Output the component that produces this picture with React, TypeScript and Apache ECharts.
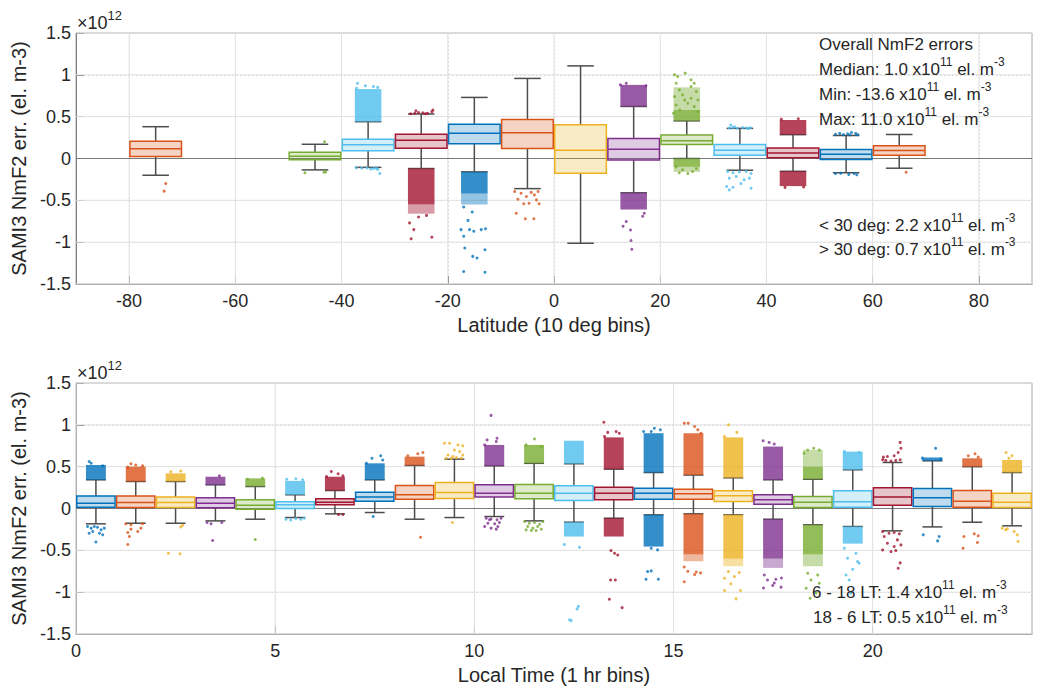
import React, { useEffect, useRef } from 'react';
import * as echarts from 'echarts';

const FONT = '"Liberation Sans", Arial, Helvetica, sans-serif';
const TXT = '#262626';
const COLORS = ['#0072BD', '#D95319', '#EDB120', '#7E2F8E', '#77AC30', '#4DBEEE', '#A2142F'];

// ---------- Top panel: latitude bins (values in 1e12 el. m-3) ----------
const latCenters = [-75, -45, -35, -25, -15, -5, 5, 15, 25, 35, 45, 55, 65];
const latColorIdx = [1, 4, 5, 6, 0, 1, 2, 3, 4, 5, 6, 0, 1];
const latWhiskerLo = [-0.2, -0.136, -0.106, -0.12, -0.16, -0.36, -1.013, -0.41, 0.0, -0.14, -0.153, -0.17, -0.116];
const latQ1 = [0.024, -0.014, 0.094, 0.122, 0.175, 0.12, -0.176, -0.018, 0.168, 0.038, 0.01, -0.012, 0.04];
const latMedian = [0.116, 0.026, 0.164, 0.218, 0.303, 0.307, 0.1, 0.112, 0.211, 0.1, 0.066, 0.052, 0.096];
const latQ3 = [0.207, 0.076, 0.231, 0.29, 0.41, 0.467, 0.403, 0.239, 0.28, 0.167, 0.126, 0.108, 0.152];
const latWhiskerHi = [0.38, 0.17, 0.44, 0.532, 0.73, 0.957, 1.107, 0.622, 0.45, 0.36, 0.285, 0.275, 0.287];
// dense outlier clouds: [bin center, low, high]
const latDenseClouds = [
  [-35, 0.44, 0.83], [-25, -0.55, -0.12], [-15, -0.42, -0.16], [15, 0.622, 0.88], [15, -0.61, -0.41],
  [25, 0.45, 0.58], [25, -0.1, 0.0], [45, 0.285, 0.46], [45, -0.33, -0.153],
];
const latLightClouds = [[25, 0.58, 0.85], [-15, -0.55, -0.42], [-25, -0.66, -0.55], [25, -0.16, -0.1]];
// individual outliers: [bin center, jitter (fraction of bin), value]
const latOutliers = [
  [-75, 0.19, -0.3], [-75, 0.16, -0.39],
  [-45, 0.18, 0.2], [-45, -0.19, -0.17], [-45, 0.2, -0.16], [-45, 0.17, -0.165],
  [-35, -0.2, 0.9], [-35, 0.1, 0.86], [-35, -0.05, 0.87], [-35, 0.18, 0.85], [-35, -0.22, 0.84],
  [-35, -0.22, -0.11], [-35, -0.12, -0.115], [-35, -0.02, -0.11], [-35, 0.1, -0.12], [-35, 0.18, -0.13],
  [-35, 0.22, -0.18], [-35, 0.05, -0.125], [-35, 0.15, -0.115],
  [-25, -0.2, 0.535], [-25, -0.12, 0.54], [-25, -0.05, 0.55], [-25, 0.03, 0.545], [-25, 0.12, 0.54],
  [-25, 0.2, 0.56], [-25, 0.22, 0.58], [-25, -0.1, 0.57], [-25, 0.08, 0.535],
  [-25, -0.22, -0.77], [-25, -0.14, -0.85], [-25, -0.19, -0.96], [-25, 0.2, -0.94], [-25, 0.1, -0.68], [-25, -0.05, -0.7],
  [-15, -0.2, -0.58], [-15, -0.04, -0.64], [-15, -0.12, -0.74], [-15, -0.09, -0.85], [-15, -0.25, -0.85],
  [-15, -0.2, -0.93], [-15, -0.01, -0.87], [-15, 0.13, -0.85], [-15, 0.21, -0.84], [-15, -0.18, -1.07],
  [-15, 0.2, -1.09], [-15, -0.03, -1.17], [-15, 0.05, -1.19], [-15, -0.2, -1.35], [-15, 0.2, -1.36],
  [-5, -0.24, -0.395], [-5, -0.12, -0.415], [-5, -0.02, -0.455], [-5, 0.07, -0.405], [-5, 0.17, -0.495],
  [-5, 0.22, -0.54], [-5, 0.03, -0.535], [-5, -0.18, -0.487], [-5, -0.07, -0.54], [-5, 0.13, -0.435],
  [-5, 0.2, -0.395], [-5, -0.21, -0.654], [-5, -0.04, -0.72], [-5, 0.12, -0.72],
  [15, -0.25, 0.88], [15, 0.23, 0.87], [15, -0.14, 0.9], [15, -0.14, -0.754], [15, -0.2, -0.81],
  [15, -0.06, -0.854], [15, -0.05, -0.98], [15, -0.035, -1.085], [15, 0.2, -0.654], [15, 0.17, -0.69],
  [25, -0.23, 1.0], [25, -0.03, 1.02], [25, 0.08, 0.94], [25, 0.14, 0.9], [25, -0.2, 0.9], [25, -0.14, 0.82],
  [25, 0.18, 0.8], [25, -0.23, 0.74], [25, -0.08, 0.76], [25, 0.08, 0.72], [25, 0.21, 0.7], [25, -0.2, 0.64],
  [25, 0.02, 0.66], [25, 0.14, 0.62], [25, -0.13, 0.58], [25, -0.25, 0.54], [25, 0.21, 0.56], [25, 0.08, 0.86],
  [25, -0.04, 0.7], [25, -0.17, 0.98],
  [25, -0.2, -0.1], [25, -0.08, -0.136], [25, 0.02, -0.18], [25, 0.18, -0.12], [25, 0.11, -0.155], [25, -0.14, -0.17],
  [35, -0.2, 0.365], [35, -0.13, 0.37], [35, -0.05, 0.362], [35, 0.05, 0.37], [35, 0.12, 0.365], [35, 0.2, 0.368],
  [35, -0.1, 0.38], [35, 0.16, 0.36], [35, -0.17, 0.4],
  [35, -0.23, -0.156], [35, -0.13, -0.17], [35, -0.01, -0.16], [35, 0.12, -0.156], [35, 0.21, -0.18],
  [35, -0.2, -0.235], [35, -0.07, -0.215], [35, 0.08, -0.255], [35, 0.18, -0.235], [35, -0.25, -0.335],
  [35, -0.13, -0.343], [35, 0.21, -0.355], [35, 0.02, -0.3], [35, -0.2, -0.375],
  [45, -0.22, 0.47], [45, 0.1, 0.475], [45, 0.2, -0.34], [45, -0.15, -0.345],
  [55, -0.2, 0.29], [55, -0.12, 0.3], [55, -0.05, 0.285], [55, 0.03, 0.295], [55, 0.1, 0.31], [55, 0.18, 0.3],
  [55, 0.22, 0.285], [55, 0.07, 0.28],
  [55, -0.2, -0.18], [55, -0.1, -0.175], [55, 0.05, -0.19], [55, 0.15, -0.18], [55, 0.2, -0.195],
  [65, 0.13, -0.164],
];

// ---------- Bottom panel: local time bins ----------
const ltCenters = [0.5, 1.5, 2.5, 3.5, 4.5, 5.5, 6.5, 7.5, 8.5, 9.5, 10.5, 11.5, 12.5, 13.5, 14.5, 15.5, 16.5, 17.5, 18.5, 19.5, 20.5, 21.5, 22.5, 23.5];
const ltWhiskerLo = [-0.183, -0.176, -0.176, -0.148, -0.128, -0.108, -0.064, -0.048, -0.128, -0.108, -0.096, -0.148, -0.164, -0.116, -0.076, -0.064, -0.076, -0.128, -0.195, -0.215, -0.267, -0.22, -0.164, -0.207];
const ltQ1 = [0.014, 0.012, 0.012, 0.008, -0.008, 0.0, 0.044, 0.088, 0.112, 0.12, 0.136, 0.116, 0.096, 0.104, 0.112, 0.112, 0.084, 0.052, 0.012, 0.016, 0.04, 0.024, 0.016, 0.012];
const ltMedian = [0.064, 0.072, 0.072, 0.064, 0.04, 0.044, 0.076, 0.136, 0.164, 0.19, 0.183, 0.183, 0.183, 0.183, 0.183, 0.175, 0.152, 0.104, 0.076, 0.08, 0.136, 0.128, 0.088, 0.076];
const ltQ3 = [0.148, 0.148, 0.136, 0.128, 0.104, 0.08, 0.116, 0.195, 0.275, 0.311, 0.283, 0.287, 0.271, 0.255, 0.243, 0.231, 0.211, 0.164, 0.144, 0.211, 0.247, 0.239, 0.215, 0.183];
const ltWhiskerHi = [0.343, 0.323, 0.323, 0.283, 0.263, 0.164, 0.215, 0.343, 0.515, 0.59, 0.51, 0.54, 0.535, 0.47, 0.43, 0.4, 0.367, 0.343, 0.35, 0.463, 0.55, 0.57, 0.5, 0.43];
const ltDenseClouds = [
  [0.5, 0.343, 0.52], [1.5, 0.323, 0.5], [2.5, 0.323, 0.42], [3.5, 0.283, 0.38], [4.5, 0.263, 0.36],
  [5.5, 0.164, 0.33], [6.5, 0.215, 0.38], [7.5, 0.343, 0.54], [8.5, 0.515, 0.62], [10.5, 0.51, 0.76],
  [11.5, 0.54, 0.76], [12.5, 0.535, 0.81], [12.5, -0.335, -0.164], [13.5, 0.47, 0.85], [13.5, -0.335, -0.116],
  [14.5, 0.43, 0.9], [14.5, -0.455, -0.076], [15.5, 0.4, 0.9], [15.5, -0.55, -0.064], [16.5, 0.367, 0.85],
  [16.5, -0.6, -0.076], [17.5, 0.343, 0.74], [17.5, -0.6, -0.128], [18.5, 0.35, 0.5], [18.5, -0.55, -0.195],
  [19.5, 0.463, 0.68], [19.5, -0.42, -0.215], [21.5, 0.57, 0.61], [22.5, 0.5, 0.6], [23.5, 0.43, 0.58],
];
const ltLightClouds = [[15.5, -0.63, -0.55], [16.5, -0.69, -0.6], [17.5, -0.71, -0.6], [18.5, 0.5, 0.7], [18.5, -0.69, -0.55]];
const ltOutliers = [
  [0.5, -0.17, 0.562], [0.5, -0.12, 0.54], [0.5, 0.17, 0.51],
  [0.5, -0.21, -0.215], [0.5, -0.12, -0.235], [0.5, -0.04, -0.215], [0.5, 0.04, -0.225], [0.5, 0.13, -0.255],
  [0.5, 0.21, -0.235], [0.5, -0.17, -0.295], [0.5, 0.09, -0.295], [0.5, 0.17, -0.315], [0.5, -0.08, -0.275], [0.5, 0.0, -0.4],
  [1.5, -0.2, 0.495], [1.5, 0.0, 0.52], [1.5, 0.17, 0.51], [1.5, -0.12, 0.535],
  [1.5, -0.25, -0.183], [1.5, -0.12, -0.195], [1.5, 0.17, -0.183], [1.5, -0.2, -0.287], [1.5, 0.05, -0.275],
  [1.5, -0.12, -0.247], [1.5, 0.13, -0.235], [1.5, -0.16, -0.335], [1.5, -0.2, -0.43],
  [2.5, -0.12, 0.44], [2.5, 0.13, 0.447], [2.5, 0.18, -0.2], [2.5, 0.13, -0.22], [2.5, -0.18, -0.535], [2.5, 0.11, -0.54],
  [3.5, 0.1, 0.39], [3.5, -0.21, -0.168], [3.5, -0.11, -0.183], [3.5, 0.16, -0.168], [3.5, -0.07, -0.383],
  [4.5, 0.18, 0.363], [4.5, -0.19, 0.35], [4.5, 0.0, -0.371],
  [5.5, -0.21, 0.35], [5.5, 0.02, 0.355], [5.5, 0.19, 0.343],
  [5.5, -0.23, -0.128], [5.5, -0.11, -0.136], [5.5, 0.02, -0.12], [5.5, 0.14, -0.128], [5.5, 0.23, -0.115],
  [6.5, -0.09, 0.443], [6.5, 0.08, 0.415], [6.5, -0.21, 0.383], [6.5, 0.2, 0.39], [6.5, 0.09, -0.072], [6.5, 0.2, -0.072],
  [7.5, 0.15, 0.63], [7.5, -0.07, 0.6], [7.5, -0.21, 0.54], [7.5, 0.2, 0.58], [7.5, -0.04, -0.096],
  [8.5, 0.21, 0.67], [8.5, 0.08, 0.654], [8.5, -0.17, 0.63], [8.5, 0.15, -0.343],
  [9.5, -0.25, 0.78], [9.5, -0.12, 0.78], [9.5, 0.09, 0.76], [9.5, 0.21, 0.75], [9.5, 0.0, 0.7], [9.5, 0.13, 0.68],
  [9.5, -0.16, 0.64], [9.5, -0.04, 0.62], [9.5, 0.21, 0.64], [9.5, -0.21, 0.6], [9.5, 0.05, 0.61], [9.5, 0.17, 0.6],
  [9.5, -0.08, 0.598], [9.5, -0.05, -0.168],
  [10.5, -0.08, 1.113], [10.5, -0.18, 0.82], [10.5, 0.07, 0.84], [10.5, 0.05, 0.8], [10.5, -0.24, 0.76],
  [10.5, -0.2, -0.116], [10.5, -0.08, -0.125], [10.5, 0.07, -0.135], [10.5, 0.17, -0.116], [10.5, -0.16, -0.176],
  [10.5, 0.01, -0.183], [10.5, 0.13, -0.168], [10.5, -0.24, -0.215], [10.5, -0.08, -0.235], [10.5, 0.09, -0.215],
  [10.5, -0.12, -0.135], [10.5, 0.05, -0.247],
  [11.5, 0.01, 0.83], [11.5, -0.2, 0.76], [11.5, 0.18, 0.74],
  [11.5, -0.24, -0.156], [11.5, -0.12, -0.176], [11.5, 0.01, -0.168], [11.5, 0.14, -0.188], [11.5, 0.22, -0.156],
  [11.5, -0.16, -0.215], [11.5, -0.03, -0.235], [11.5, 0.09, -0.215], [11.5, -0.07, -0.263], [11.5, -0.2, -0.255],
  [11.5, 0.05, -0.263], [11.5, 0.18, -0.247],
  [12.5, -0.24, -0.43], [12.5, 0.14, -0.463], [12.5, 0.11, -1.17], [12.5, 0.08, -1.2], [12.5, -0.07, -1.34], [12.5, -0.11, -1.33],
  [13.5, -0.25, 1.03], [13.5, -0.15, 0.91], [13.5, 0.06, 0.92], [13.5, 0.14, 0.9], [13.5, -0.23, 0.86],
  [13.5, -0.07, -0.503], [13.5, 0.1, -0.555], [13.5, 0.02, -0.535], [13.5, -0.08, -0.855], [13.5, 0.04, -0.855],
  [13.5, -0.11, -1.085], [13.5, 0.21, -1.185],
  [14.5, -0.25, 0.92], [14.5, 0.02, 0.96], [14.5, 0.17, 0.94], [14.5, -0.06, 0.92],
  [14.5, 0.1, -0.495], [14.5, -0.06, -0.475], [14.5, -0.15, -0.754], [14.5, -0.06, -0.746], [14.5, -0.19, -0.846], [14.5, 0.12, -0.846],
  [15.5, -0.23, 1.02], [15.5, -0.13, 1.02], [15.5, 0.03, 0.98], [15.5, 0.11, 0.94], [15.5, 0.19, 0.9],
  [15.5, -0.23, -0.7], [15.5, -0.14, -0.75], [15.5, 0.07, -0.76], [15.5, 0.18, -0.77], [15.5, -0.23, -0.875], [15.5, 0.03, -0.79],
  [16.5, -0.12, 1.0], [16.5, 0.09, 0.91], [16.5, -0.22, 0.86],
  [16.5, -0.22, -0.834], [16.5, 0.03, -0.814], [16.5, -0.12, -0.754], [16.5, 0.15, -0.766], [16.5, -0.22, -0.98],
  [16.5, 0.18, -0.98], [16.5, 0.07, -1.08], [16.5, -0.06, -0.9],
  [17.5, -0.25, 0.81], [17.5, 0.03, 0.77], [17.5, -0.1, 0.79],
  [17.5, -0.22, -0.794], [17.5, 0.07, -0.846], [17.5, -0.14, -0.854], [17.5, -0.24, -0.95], [17.5, 0.03, -0.89],
  [17.5, 0.21, -0.83], [17.5, -0.01, -0.92], [17.5, 0.2, -0.94],
  [18.5, -0.13, 0.7], [18.5, 0.16, 0.7], [18.5, 0.02, 0.72], [18.5, -0.22, 0.66],
  [18.5, -0.13, -0.774], [18.5, 0.12, -0.794], [18.5, -0.05, -0.854], [18.5, 0.16, -0.894], [18.5, -0.17, -0.953],
  [18.5, 0.08, -1.01], [18.5, -0.07, -1.073],
  [19.5, -0.21, 0.68], [19.5, 0.16, 0.67],
  [19.5, -0.21, -0.475], [19.5, 0.08, -0.535], [19.5, -0.13, -0.594], [19.5, 0.16, -0.654], [19.5, 0.0, -0.726],
  [19.5, -0.17, -0.794], [19.5, 0.12, -0.634], [19.5, -0.09, -0.854], [19.5, -0.05, -1.013],
  [20.5, -0.25, 0.582], [20.5, -0.17, 0.575], [20.5, -0.04, 0.567], [20.5, 0.08, 0.575], [20.5, 0.19, 0.582],
  [20.5, -0.23, 0.614], [20.5, 0.04, 0.63], [20.5, 0.14, 0.67], [20.5, 0.21, 0.72], [20.5, 0.19, 0.79], [20.5, -0.13, 0.622],
  [20.5, -0.25, -0.275], [20.5, -0.09, -0.295], [20.5, 0.04, -0.287], [20.5, 0.17, -0.303], [20.5, -0.21, -0.335],
  [20.5, 0.12, -0.375], [20.5, -0.13, -0.415], [20.5, 0.04, -0.455], [20.5, 0.21, -0.435], [20.5, -0.25, -0.495],
  [20.5, -0.04, -0.515], [20.5, 0.08, -0.503], [20.5, 0.19, -0.65], [20.5, 0.14, -0.714],
  [21.5, 0.08, 0.72], [21.5, -0.25, 0.602], [21.5, 0.21, 0.59],
  [21.5, -0.23, -0.315], [21.5, 0.17, -0.335], [21.5, 0.13, -0.387],
  [22.5, 0.07, 0.654], [22.5, -0.1, 0.63], [22.5, 0.15, 0.614],
  [22.5, -0.21, -0.335], [22.5, 0.05, -0.303], [22.5, 0.15, -0.327], [22.5, 0.13, -0.407], [22.5, -0.23, -0.475],
  [23.5, -0.15, 0.67], [23.5, 0.0, 0.63], [23.5, -0.08, 0.6],
  [23.5, -0.25, -0.235], [23.5, -0.12, -0.243], [23.5, 0.05, -0.275], [23.5, 0.13, -0.315], [23.5, 0.15, -0.395], [23.5, -0.16, -0.255],
];

// ---------- ticks ----------
const latXTicks = [-80, -60, -40, -20, 0, 20, 40, 60, 80];
const ltXTicks = [0, 5, 10, 15, 20];
const yTicks = [-1.5, -1, -0.5, 0, 0.5, 1, 1.5];

const hexA = (hex: string, a: number) => {
  const r = parseInt(hex.slice(1, 3), 16), g = parseInt(hex.slice(3, 5), 16), b = parseInt(hex.slice(5, 7), 16);
  return `rgba(${r},${g},${b},${a})`;
};

function boxRender(binW: number) {
  return (params: any, api: any) => {
    const c = api.value(0);
    const lo = api.value(1), q1 = api.value(2), md = api.value(3), q3 = api.value(4), hi = api.value(5);
    const col = COLORS[api.value(6)];
    const pLT = api.coord([c - binW / 2, q3]);
    const pRB = api.coord([c + binW / 2, q1]);
    const yMd = api.coord([c, md])[1];
    const yHi = api.coord([c, hi])[1];
    const yLo = api.coord([c, lo])[1];
    const cx = api.coord([c, md])[0];
    const capL = api.coord([c - binW / 4, hi])[0];
    const capR = api.coord([c + binW / 4, hi])[0];
    const wk = { stroke: '#4d4d4d', lineWidth: 1.5 };
    return {
      type: 'group',
      children: [
        { type: 'line', shape: { x1: cx, y1: pLT[1], x2: cx, y2: yHi }, style: wk },
        { type: 'line', shape: { x1: cx, y1: pRB[1], x2: cx, y2: yLo }, style: wk },
        { type: 'line', shape: { x1: capL, y1: yHi, x2: capR, y2: yHi }, style: wk },
        { type: 'line', shape: { x1: capL, y1: yLo, x2: capR, y2: yLo }, style: wk },
        {
          type: 'rect',
          shape: { x: pLT[0] + 0.75, y: pLT[1], width: pRB[0] - pLT[0] - 1.5, height: pRB[1] - pLT[1] },
          style: { fill: hexA(col, 0.25), stroke: col, lineWidth: 1.5 },
        },
        { type: 'line', shape: { x1: pLT[0] + 1, y1: yMd, x2: pRB[0] - 1, y2: yMd }, style: { stroke: col, lineWidth: 1.5 } },
      ],
    };
  };
}

function cloudRender(binW: number, opacity: number) {
  return (params: any, api: any) => {
    const c = api.value(0);
    const p1 = api.coord([c - binW / 4, api.value(2)]);
    const p2 = api.coord([c + binW / 4, api.value(1)]);
    const col = COLORS[api.value(3)];
    return {
      type: 'rect',
      shape: { x: p1[0], y: p1[1], width: p2[0] - p1[0], height: p2[1] - p1[1] },
      style: { fill: hexA(col, opacity) },
    };
  };
}

const gridLineRender = (params: any, api: any) => {
  const cs = params.coordSys;
  const kind = api.value(2);
  const p = api.coord([api.value(0), api.value(1)]);
  if (kind === 0) {
    return { type: 'line', shape: { x1: p[0], y1: cs.y, x2: p[0], y2: cs.y + cs.height }, style: { stroke: '#e2e2e2', lineWidth: 1 } };
  }
  return {
    type: 'line',
    shape: { x1: cs.x, y1: p[1], x2: cs.x + cs.width, y2: p[1] },
    style: { stroke: kind === 2 ? '#7a7a7a' : '#e2e2e2', lineWidth: 1 },
  };
};

const richStyle = {
  n: { fontSize: 17, lineHeight: 26, fontFamily: FONT, fill: TXT, color: TXT },
  s: { fontSize: 12, lineHeight: 12, fontFamily: FONT, fill: TXT, color: TXT, verticalAlign: 'top' },
};

function textEl(x: number, y: number, text: string, rich: any = richStyle) {
  return {
    type: 'text',
    x,
    y,
    z: 100,
    style: { text, rich, align: 'left', verticalAlign: 'middle', textAlign: 'left', textVerticalAlign: 'middle' },
  };
}

const expRich = {
  n: { fontSize: 18, lineHeight: 28, fontFamily: FONT, fill: TXT, color: TXT },
  s: { fontSize: 13, lineHeight: 13, fontFamily: FONT, fill: TXT, color: TXT, verticalAlign: 'top' },
};

function buildOption() {
  const latColorOf = (c: number) => latColorIdx[latCenters.indexOf(c)];
  const ltColorOf = (c: number) => ltCenters.indexOf(c) % 7;

  const xAxisCommon = (gridIndex: number, min: number, max: number, interval: number, ticks: number[], name: string) => ({
    gridIndex,
    type: 'value',
    min,
    max,
    interval,
    name,
    nameLocation: 'middle',
    nameGap: 31,
    nameTextStyle: { fontSize: 20, color: TXT, fontFamily: FONT },
    axisLine: { show: true, onZero: false, lineStyle: { color: '#7f7f7f', width: 1 } },
    axisTick: { show: true, inside: true, length: 8, customValues: ticks, lineStyle: { color: '#7f7f7f' } },
    axisLabel: {
      customValues: ticks,
      fontSize: 18,
      color: TXT,
      fontFamily: FONT,
      margin: 8,
      formatter: (v: number) => (ticks.some((t) => Math.abs(t - v) < 1e-6) ? String(v) : ''),
    },
    splitLine: { show: true, lineStyle: { color: '#d2d2d2', type: [1.5, 2.5], width: 1 } },
  });

  const yAxisCommon = (gridIndex: number) => ({
    gridIndex,
    type: 'value',
    min: -1.5,
    max: 1.5,
    interval: 0.1,
    name: 'SAMI3 NmF2 err. (el. m-3)',
    nameLocation: 'middle',
    nameGap: 38,
    nameRotate: 90,
    nameTextStyle: { fontSize: 20, color: TXT, fontFamily: FONT },
    axisLine: { show: true, onZero: false, lineStyle: { color: '#7f7f7f', width: 1 } },
    axisTick: { show: true, inside: true, length: 8, customValues: yTicks, lineStyle: { color: '#7f7f7f' } },
    axisLabel: {
      customValues: yTicks,
      fontSize: 18,
      color: TXT,
      fontFamily: FONT,
      margin: 5,
      formatter: (v: number) => (yTicks.some((t) => Math.abs(t - v) < 1e-6) ? String(Math.round(v * 10) / 10) : ''),
    },
    splitLine: { show: true, lineStyle: { color: '#d2d2d2', type: [1.5, 2.5], width: 1 } },
  });

  const latGridData = [
    ...latXTicks.map((v) => [v, 0, 0]),
    ...yTicks.map((v) => [-90, v, 1]),
    [-90, 0, 2],
  ];
  const ltGridData = [
    ...ltXTicks.map((v) => [v, 0, 0]),
    ...yTicks.map((v) => [0, v, 1]),
    [0, 0, 2],
  ];

  const latBoxData = latCenters.map((c, i) => [c, latWhiskerLo[i], latQ1[i], latMedian[i], latQ3[i], latWhiskerHi[i], latColorIdx[i]]);
  const ltBoxData = ltCenters.map((c, i) => [c, ltWhiskerLo[i], ltQ1[i], ltMedian[i], ltQ3[i], ltWhiskerHi[i], i % 7]);

  const latDense = latDenseClouds.map((d) => [d[0], d[1], d[2], latColorOf(d[0])]);
  const latLight = latLightClouds.map((d) => [d[0], d[1], d[2], latColorOf(d[0])]);
  const ltDense = ltDenseClouds.map((d) => [d[0], d[1], d[2], ltColorOf(d[0])]);
  const ltLight = ltLightClouds.map((d) => [d[0], d[1], d[2], ltColorOf(d[0])]);

  const latPts = latOutliers.map((d) => ({ value: [d[0] + d[1] * 10, d[2]], itemStyle: { color: COLORS[latColorOf(d[0])] } }));
  const ltPts = ltOutliers.map((d) => ({ value: [d[0] + d[1] * 1, d[2]], itemStyle: { color: COLORS[ltColorOf(d[0])] } }));

  const seriesFor = (ax: number, binW: number, gridData: any[], boxData: any[], dense: any[], light: any[], pts: any[]) => [
    { type: 'custom', xAxisIndex: ax, yAxisIndex: ax, z: 1, silent: true, renderItem: gridLineRender, data: gridData },
    { type: 'custom', xAxisIndex: ax, yAxisIndex: ax, z: 3, silent: true, renderItem: boxRender(binW), data: boxData },
    { type: 'custom', xAxisIndex: ax, yAxisIndex: ax, z: 4, silent: true, renderItem: cloudRender(binW, 0.42), data: light },
    { type: 'custom', xAxisIndex: ax, yAxisIndex: ax, z: 4, silent: true, renderItem: cloudRender(binW, 0.8), data: dense },
    { type: 'scatter', xAxisIndex: ax, yAxisIndex: ax, z: 5, silent: true, symbol: 'circle', symbolSize: 3, data: pts },
  ];

  return {
    animation: false,
    backgroundColor: '#ffffff',
    grid: [
      { left: 76, top: 33, width: 956, height: 251, show: true, borderColor: '#a6a6a6', borderWidth: 1, backgroundColor: 'transparent' },
      { left: 76, top: 383, width: 956, height: 251, show: true, borderColor: '#a6a6a6', borderWidth: 1, backgroundColor: 'transparent' },
    ],
    xAxis: [
      xAxisCommon(0, -90, 90, 5, latXTicks, 'Latitude (10 deg bins)'),
      xAxisCommon(1, 0, 24, 1, ltXTicks, 'Local Time (1 hr bins)'),
    ],
    yAxis: [yAxisCommon(0), yAxisCommon(1)],
    series: [
      ...seriesFor(0, 10, latGridData, latBoxData, latDense, latLight, latPts),
      ...seriesFor(1, 1, ltGridData, ltBoxData, ltDense, ltLight, ltPts),
    ],
    graphic: [
      textEl(77, 23, '{n|×10}{s|12}', expRich),
      textEl(77, 373, '{n|×10}{s|12}', expRich),
      textEl(819, 44, '{n|Overall NmF2 errors}'),
      textEl(819, 69, '{n|Median: 1.0 x10}{s|11}{n| el. m}{s|-3}'),
      textEl(819, 94, '{n|Min: -13.6 x10}{s|11}{n| el. m}{s|-3}'),
      textEl(819, 119, '{n|Max: 11.0 x10}{s|11}{n| el. m}{s|-3}'),
      textEl(819, 225, '{n|< 30 deg: 2.2 x10}{s|11}{n| el. m}{s|-3}'),
      textEl(819, 249, '{n|> 30 deg: 0.7 x10}{s|11}{n| el. m}{s|-3}'),
      textEl(812, 592, '{n|6 - 18 LT: 1.4 x10}{s|11}{n| el. m}{s|-3}'),
      textEl(813, 617, '{n|18 - 6 LT: 0.5 x10}{s|11}{n| el. m}{s|-3}'),
    ],
  };
}

export default function App() {
  const ref = useRef<HTMLDivElement>(null);
  useEffect(() => {
    if (!ref.current) return;
    const chart = echarts.init(ref.current, undefined, { renderer: 'svg' });
    chart.setOption(buildOption() as any);
    return () => chart.dispose();
  }, []);
  return (
    <div
      ref={ref}
      style={{ position: 'fixed', left: 0, top: 0, width: 1041, height: 689, background: '#ffffff' }}
    />
  );
}
